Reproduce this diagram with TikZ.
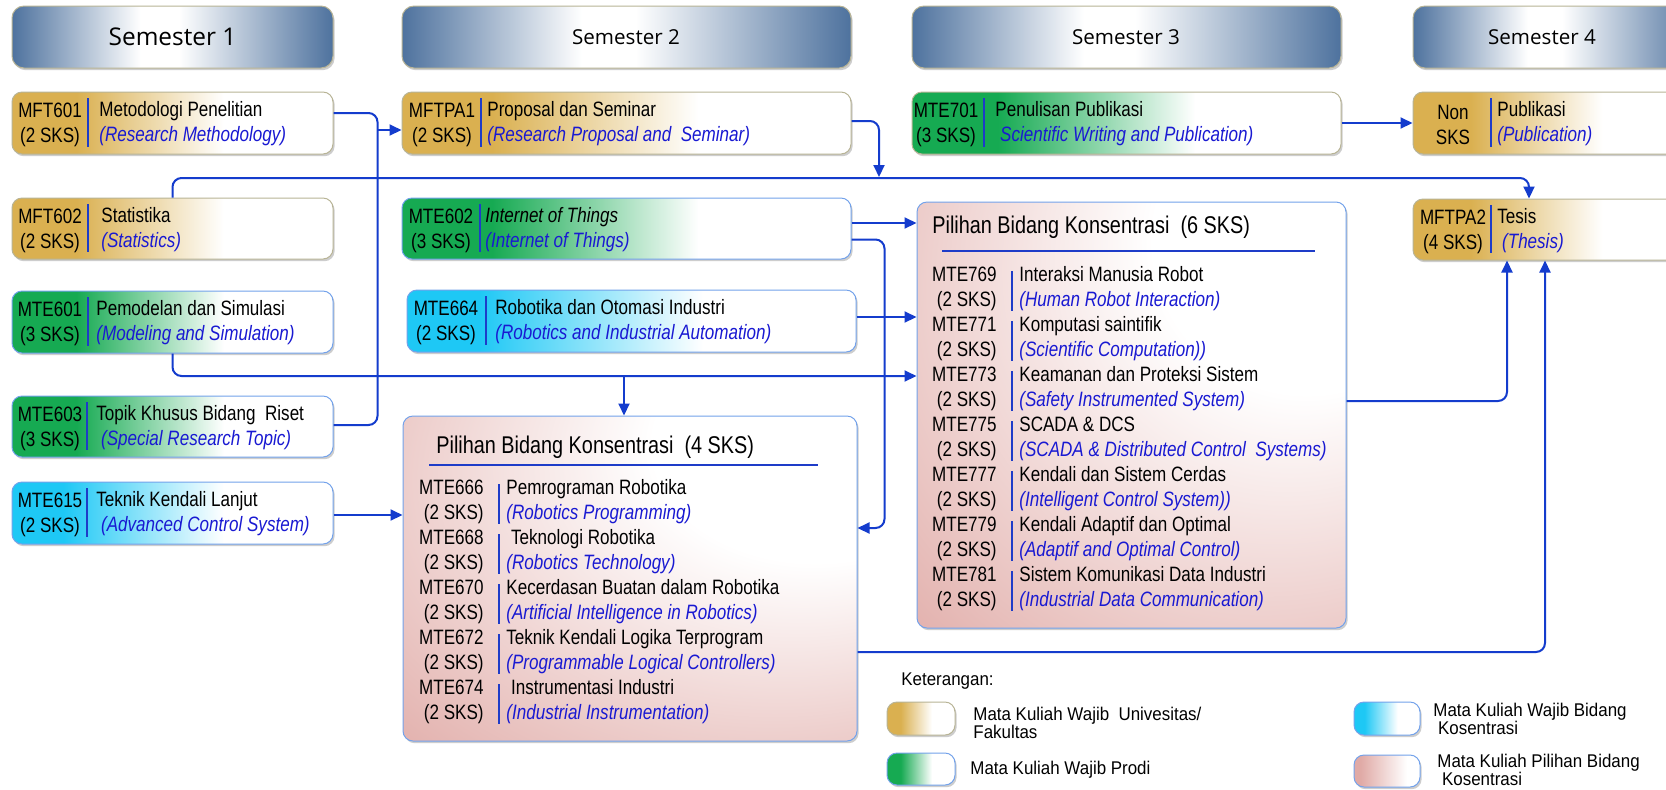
\documentclass[tikz,border=0pt]{standalone}
\usepackage{fontspec}
\setmainfont{Liberation Sans}[FakeStretch=0.82]
\newfontfamily\legfont{Liberation Sans}[FakeStretch=0.92]
\newfontfamily\hdrfont{Open Sans}
\usetikzlibrary{arrows.meta,fit,shadows}

\definecolor{cgold}{RGB}{218,176,80}
\definecolor{cgreen}{RGB}{22,170,82}
\definecolor{ccyan}{RGB}{30,200,245}
\definecolor{cpink}{RGB}{224,170,166}
\definecolor{hdrblue}{RGB}{78,114,158}
\definecolor{goldline}{RGB}{184,180,150}
\definecolor{boxline}{RGB}{115,162,235}
\definecolor{linkblue}{RGB}{20,60,205}
\definecolor{sepblue}{RGB}{30,60,200}
\definecolor{engblue}{RGB}{25,25,210}

% fills of the course boxes: solid colour on the code side, fading to white
\pgfdeclarehorizontalshading{goldfade}{100bp}{color(0bp)=(cgold); color(35bp)=(cgold); color(58bp)=(white); color(100bp)=(white)}
\pgfdeclarehorizontalshading{greenfade}{100bp}{color(0bp)=(cgreen); color(35bp)=(cgreen); color(58bp)=(white); color(100bp)=(white)}
\pgfdeclarehorizontalshading{cyanfade}{100bp}{color(0bp)=(ccyan); color(33bp)=(ccyan); color(58bp)=(white); color(100bp)=(white)}
\pgfdeclarehorizontalshading{pinkfade}{100bp}{color(0bp)=(cpink); color(30bp)=(cpink); color(65bp)=(white); color(100bp)=(white)}
\pgfdeclarehorizontalshading{hdrfade}{100bp}{color(0bp)=(hdrblue); color(25bp)=(hdrblue); color(45bp)=(white); color(51bp)=(white); color(75bp)=(hdrblue); color(100bp)=(hdrblue)}
\pgfdeclareradialshading{pinkglow}{\pgfpoint{25bp}{25bp}}{color(0bp)=(white); color(18bp)=(white); color(56bp)=(cpink); color(100bp)=(cpink)}

\newcommand\bodyfont{\fontsize{10.4}{12.5}\selectfont}
\newcommand\en[1]{{\color{engblue}\itshape #1}}

\tikzset{
  boxshadow/.style={drop shadow={shadow xshift=0.8pt, shadow yshift=-1.1pt, opacity=0.28, fill=black!70}},
  course/.style={rounded corners=5pt, inner sep=0pt, line width=0.5pt, boxshadow, shade},
  goldbox/.style={course, draw=goldline, shading=goldfade},
  greenbox/.style={course, draw=boxline, shading=greenfade},
  cyanbox/.style={course, draw=boxline, shading=cyanfade},
  pinkbox/.style={course, draw=boxline, shading=pinkfade},
  electbox/.style={course, draw=boxline, shading=pinkglow},
  semhdr/.style={rounded corners=6pt, inner sep=0pt, line width=0.5pt, draw=goldline, shade, shading=hdrfade, boxshadow},
  hdrtxt/.style={inner sep=0pt, font=\hdrfont\fontsize{10.3}{12}\selectfont},
  codetxt/.style={inner sep=0pt, align=center, font=\bodyfont},
  titletxt/.style={inner sep=0pt, align=left, anchor=west, font=\bodyfont},
  bigtitle/.style={inner sep=0pt, anchor=west, font=\fontsize{12.1}{14}\selectfont},
  legtxt/.style={inner sep=0pt, align=left, anchor=west, font=\legfont\fontsize{9.2}{9.2}\selectfont},
  sepline/.style={draw=sepblue, line width=0.9pt},
  underline/.style={draw=sepblue, line width=0.8pt},
  link/.style={draw=linkblue, line width=1pt, rounded corners=4.5pt},
  arr/.style={link, -{Triangle[length=6pt, width=5.5pt]}},
}

% course box: name, style, left, top, right, bottom, code centre x, separator x, title x
\newcommand\course[9]{%
  \node[#2, fit={(#3,#4)(#5,#6)}] (#1) {};
  \draw[sepline] (#8,#4+6) -- (#8,#6-7);
  \def\crsCX{#7}\def\crsTX{#9}\def\crsCY{#4/2+#6/2}}
% texts of the last course box: name, code lines, title lines
\newcommand\ctext[3]{%
  \node[codetxt] (#1-c) at (\crsCX,\crsCY+2) {#2};
  \node[titletxt] (#1-t) at (\crsTX,\crsCY+1) {#3};}
% elective entry: name, code right x, separator x, title x, first line y, code, title, english
\newcommand\pentry[8]{%
  \node[codetxt, align=right, anchor=east] (#1-c) at (#2,#5+14) {#6\\(2 SKS)};
  \draw[sepline] (#3,#5-4) -- (#3,#5+36);
  \node[titletxt] (#1-t) at (#4,#5+13.5) {#7\\\en{#8}};}

\begin{document}
\begin{tikzpicture}[x=0.5pt, y=-0.5pt]
\useasboundingbox (0,0) rectangle (1666,789);
\clip (0,0) rectangle (1666,789);
\fill[white] (0,0) rectangle (1666,789);

% semester headers
\node[semhdr, fit={(12,6)(333,68)}] (sem1) {};
\node[hdrtxt, font=\hdrfont\fontsize{12.2}{14}\selectfont] (sem1-t) at (172.5,37) {Semester 1};
\node[semhdr, fit={(402,6)(851,68)}] (sem2) {};
\node[hdrtxt] (sem2-t) at (626,37) {Semester 2};
\node[semhdr, fit={(912,6)(1341,68)}] (sem3) {};
\node[hdrtxt] (sem3-t) at (1126,37) {Semester 3};
\node[semhdr, fit={(1413,6)(1700,68)}] (sem4) {};
\node[hdrtxt] (sem4-t) at (1542,37) {Semester 4};

% semester 1
\course{mft601}{goldbox}{12}{92}{333}{154}{50}{88}{99}
\ctext{mft601}{MFT601\\(2 SKS)}{Metodologi Penelitian\\\en{(Research Methodology)}}
\course{mft602}{goldbox}{12}{198}{333}{259}{50}{88}{101}
\ctext{mft602}{MFT602\\(2 SKS)}{Statistika\\\en{(Statistics)}}
\course{mte601}{greenbox}{12}{291}{333}{353}{50}{88}{96}
\ctext{mte601}{MTE601\\(3 SKS)}{Pemodelan dan Simulasi\\\en{(Modeling and Simulation)}}
\course{mte603}{greenbox}{12}{396}{333}{457}{50}{87}{96}
\ctext{mte603}{MTE603\\(3 SKS)}{Topik Khusus Bidang\ \ Riset\\\en{\ (Special Research Topic)}}
\course{mte615}{cyanbox}{12}{482}{333}{544}{50}{87}{96}
\ctext{mte615}{MTE615\\(2 SKS)}{Teknik Kendali Lanjut\\\en{\ (Advanced Control System)}}

% semester 2
\course{mftpa1}{goldbox}{402}{92}{851}{154}{442}{481}{487}
\ctext{mftpa1}{MFTPA1\\(2 SKS)}{Proposal dan Seminar\\\en{(Research Proposal and\ \ Seminar)}}
\course{mte602}{greenbox}{402}{198}{851}{259}{441}{480}{485}
\ctext{mte602}{MTE602\\(3 SKS)}{\textit{Internet of Things}\\\en{(Internet of Things)}}
\course{mte664}{cyanbox}{407}{290}{856}{352}{446}{486}{495}
\ctext{mte664}{MTE664\\(2 SKS)}{Robotika dan Otomasi Industri\\\en{(Robotics and Industrial Automation)}}

% semester 3
\course{mte701}{greenbox, draw=goldline}{912}{92}{1341}{154}{946}{984}{995}
\ctext{mte701}{MTE701\\(3 SKS)}{Penulisan Publikasi\\\en{\ Scientific Writing and Publication)}}

% semester 4
\course{pub}{goldbox}{1413}{92}{1700}{154}{1453}{1491}{1497}
\ctext{pub}{Non\\SKS}{Publikasi\\\en{(Publication)}}
\course{tesis}{goldbox}{1413}{199}{1700}{260}{1453}{1491}{1497}
\ctext{tesis}{MFTPA2\\(4 SKS)}{Tesis\\\en{\ (Thesis)}}

% elective block, 4 SKS
\node[electbox, fit={(403,416)(857,741)}] (p4) {};
\node[bigtitle] (p4-t) at (436,447) {Pilihan Bidang Konsentrasi\ \ (4 SKS)};
\draw[underline] (429,465) -- (818,465);
\pentry{m666}{484}{499}{506}{488}{MTE666}{Pemrograman Robotika}{(Robotics Programming)}
\pentry{m668}{484}{499}{506}{538}{MTE668}{\ Teknologi Robotika}{(Robotics Technology)}
\pentry{m670}{484}{499}{506}{588}{MTE670}{Kecerdasan Buatan dalam Robotika}{(Artificial Intelligence in Robotics)}
\pentry{m672}{484}{499}{506}{638}{MTE672}{Teknik Kendali Logika Terprogram}{(Programmable Logical Controllers)}
\pentry{m674}{484}{499}{506}{688}{MTE674}{\ Instrumentasi Industri}{(Industrial Instrumentation)}

% elective block, 6 SKS
\node[electbox, fit={(917,202)(1346,628)}] (p6) {};
\node[bigtitle] (p6-t) at (932,227) {Pilihan Bidang Konsentrasi\ \ (6 SKS)};
\draw[underline] (942,251) -- (1315,251);
\pentry{m769}{997}{1012}{1019}{275}{MTE769}{Interaksi Manusia Robot}{(Human Robot Interaction)}
\pentry{m771}{997}{1012}{1019}{325}{MTE771}{Komputasi saintifik}{(Scientific Computation))}
\pentry{m773}{997}{1012}{1019}{375}{MTE773}{Keamanan dan Proteksi Sistem}{(Safety Instrumented System)}
\pentry{m775}{997}{1012}{1019}{425}{MTE775}{SCADA \& DCS}{(SCADA \& Distributed Control\ \ Systems)}
\pentry{m777}{997}{1012}{1019}{475}{MTE777}{Kendali dan Sistem Cerdas}{(Intelligent Control System))}
\pentry{m779}{997}{1012}{1019}{525}{MTE779}{Kendali Adaptif dan Optimal}{(Adaptif and Optimal Control)}
\pentry{m781}{997}{1012}{1019}{575}{MTE781}{Sistem Komunikasi Data Industri}{(Industrial Data Communication)}

% connectors
\coordinate (jA) at (377,130);
\draw[link] ([yshift=5pt]mft601.east) -- ++(22pt,0) |- ([yshift=0.75pt]mte603.east);
\draw[arr] (jA) -- (mftpa1.west |- jA);

\coordinate (jB) at (1529,178);
\draw[arr] (mft602.north) |- (jB) -- (jB |- tesis.north);

\coordinate (jC) at (879,177);
\draw[arr] ([yshift=1pt]mftpa1.east) -| (jC);

\coordinate (s4) at ([yshift=2.75pt]mte602.east);
\draw[arr] (s4) -- (s4 -| p6.west);

\coordinate (s5) at ([yshift=-5.5pt]mte602.east);
\draw[arr] (s5) -- ++(16.5pt,0) |- ([yshift=25.25pt]p4.east);

\coordinate (s6) at ([yshift=2pt]mte664.east);
\draw[arr] (s6) -- (s6 -| p6.west);

\coordinate (h7) at (624,376);
\draw[arr] (mte601.south) |- (h7 -| p6.west);
\draw[arr] (h7) -- (h7 |- p4.north);

\coordinate (s8) at ([yshift=-1pt]mte615.east);
\draw[arr] (s8) -- (s8 -| p4.west);

\coordinate (s9) at ([yshift=7pt]p6.east);
\coordinate (u9) at (1507,0);
\draw[arr] (s9) -| (u9 |- tesis.south);

\coordinate (s10) at ([yshift=-36.75pt]p4.east);
\coordinate (u10) at (1545,0);
\draw[arr] (s10) -| (u10 |- tesis.south);

\draw[arr] (mte701.east) -- (pub.west);

% legend
\node[legtxt] (ket) at (901,681) {Keterangan:};
\node[goldbox, fit={(887,702)(955,735)}] (lg-gold) {};
\node[legtxt] (lg-gold-t) at (973,723) {Mata Kuliah Wajib\ \ Univesitas/\\Fakultas};
\node[greenbox, fit={(887,753)(955,785)}] (lg-green) {};
\node[legtxt] (lg-green-t) at (970,770) {Mata Kuliah Wajib Prodi};
\node[cyanbox, fit={(1354,702)(1420,735)}] (lg-cyan) {};
\node[legtxt] (lg-cyan-t) at (1433,719) {Mata Kuliah Wajib Bidang\\\ Kosentrasi};
\node[pinkbox, fit={(1354,755)(1420,787)}] (lg-pink) {};
\node[legtxt] (lg-pink-t) at (1437,770) {Mata Kuliah Pilihan Bidang\\\ Kosentrasi};
\end{tikzpicture}
\end{document}
